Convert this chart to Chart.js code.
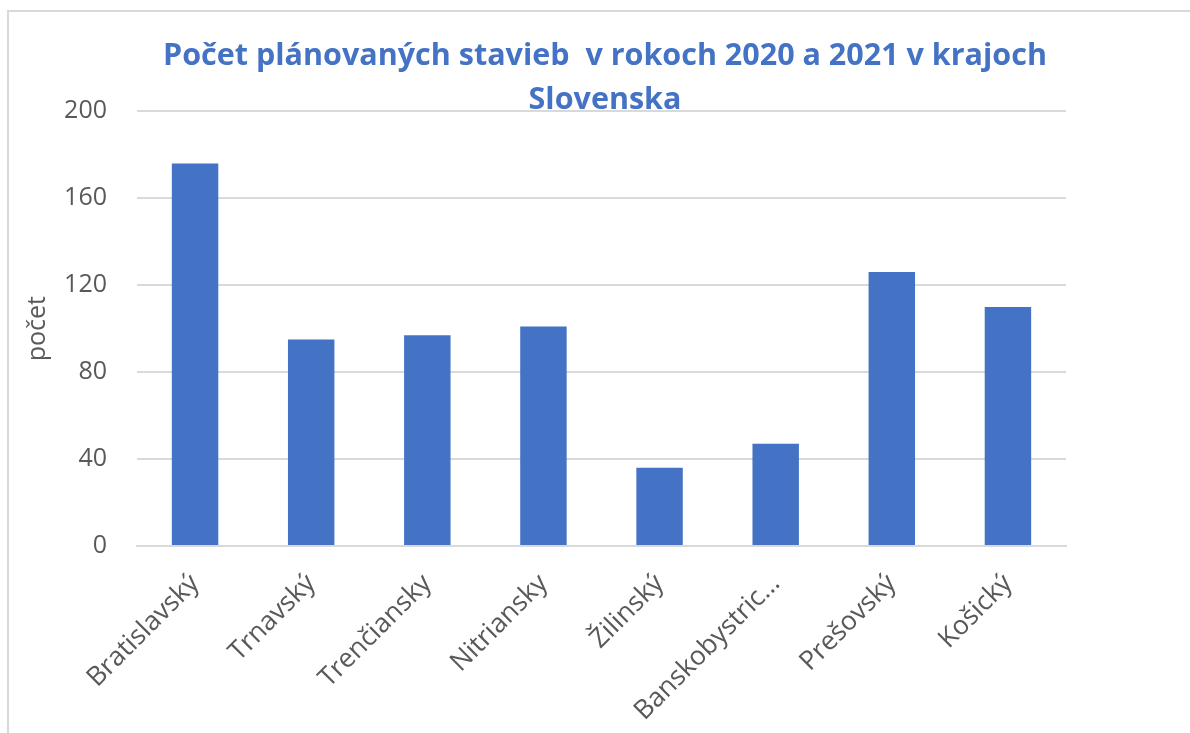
<!DOCTYPE html>
<html>
<head>
<meta charset="utf-8">
<script src="https://cdn.jsdelivr.net/npm/chart.js@4/dist/chart.umd.min.js"></script>
<style>
  html, body { margin: 0; padding: 0; background: #fff; }
  #wrap { position: relative; width: 1190px; height: 733px; }
  #ramik { position: absolute; left: 7px; top: 10px; right: -5px; bottom: -5px; border-left: 2px solid #d9d9d9; border-top: 2px solid #d9d9d9; }
</style>
</head>
<body>
<div id="wrap">
  <div id="ramik"></div>
  <canvas id="graf" width="1190" height="733"></canvas>
</div>
<script>
const kraje = ["Bratislavský", "Trnavský", "Trenčiansky", "Nitriansky", "Žilinský", "Banskobystrický", "Prešovský", "Košický"];
const pocetStavieb = [176, 95, 97, 101, 36, 47, 126, 110];
const nadpis = ["Počet plánovaných stavieb  v rokoch 2020 a 2021 v krajoch", "Slovenska"];
const osY = "počet";

const modra = "#4472c4";
const seda = "#595959";
const mriezka = "#d9d9d9";
const pismo = "'Open Sans', Lato, sans-serif";

const ctx = document.getElementById("graf").getContext("2d");
const graf = new Chart(ctx, {
  type: "bar",
  data: {
    labels: kraje,
    datasets: [{
      label: osY,
      data: pocetStavieb,
      backgroundColor: modra,
      barPercentage: 0.4,
      categoryPercentage: 1,
    }],
  },
  options: {
    responsive: false,
    animation: false,
    layout: { padding: { left: 20, right: 0, top: 0, bottom: 0 } },
    plugins: {
      legend: { display: false },
      tooltip: { enabled: false },
      title: {
        display: true,
        text: nadpis,
        color: modra,
        font: { family: pismo, size: 30.5, weight: "bold", lineHeight: 1.43 },
        padding: { top: 35, bottom: -11 },
      },
    },
    scales: {
      x: {
        grid: { display: false, drawTicks: false },
        border: { display: true, color: mriezka, width: 2 },
        ticks: {
          color: seda,
          font: { family: pismo, size: 26.5 },
          minRotation: 45,
          maxRotation: 45,
          padding: 22,
          callback: function (v) {
            const t = this.getLabelForValue(v);
            return t.length > 13 ? t.slice(0, 13) + "…" : t;
          },
        },
        afterFit: (s) => { s.height = 187; },
      },
      y: {
        min: 0,
        max: 200,
        ticks: { stepSize: 40, color: seda, font: { family: pismo, size: 25 }, padding: 30 },
        grid: { color: mriezka, lineWidth: 2, drawTicks: false },
        border: { display: false },
        title: {
          display: true,
          text: osY,
          color: seda,
          font: { family: pismo, size: 25 },
          padding: { top: 3, bottom: 0 },
        },
        afterFit: (s) => { s.width = 117; },
      },
      vpravo: {
        type: "linear",
        position: "right",
        grid: { display: false, drawTicks: false },
        border: { display: false },
        ticks: { display: false },
        afterFit: (s) => { s.width = 124; },
      },
    },
  },
});
</script>
</body>
</html>
